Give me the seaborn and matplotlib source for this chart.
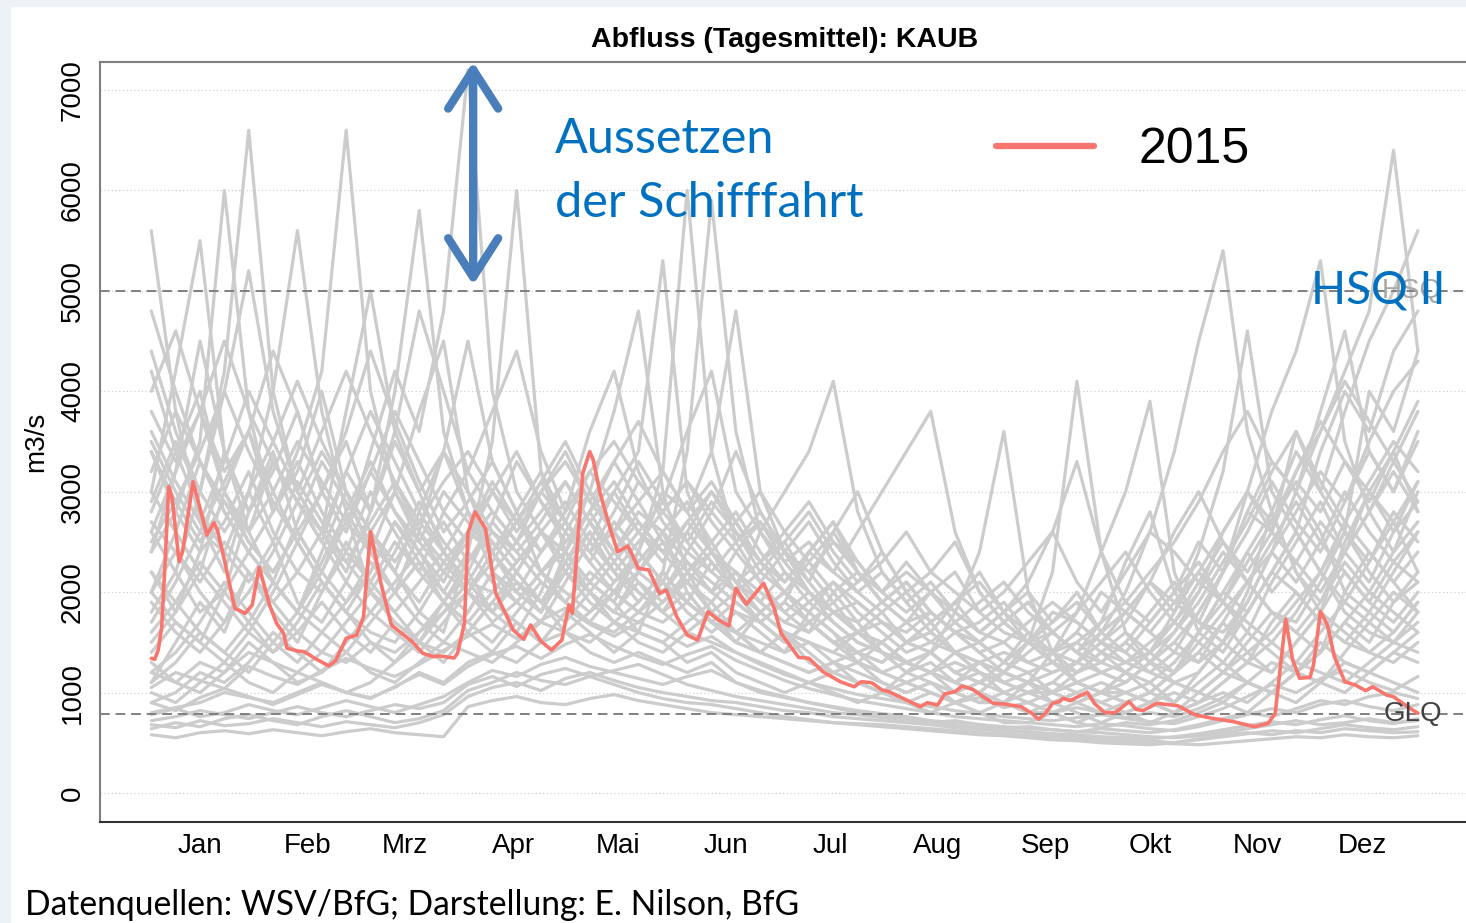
import numpy as np
import pandas as pd
import matplotlib
matplotlib.use("Agg")
import matplotlib.pyplot as plt
from matplotlib.patches import Rectangle
import seaborn as sns

# Abfluss (Tagesmittel) Kaub

months = ["Jan", "Feb", "Mrz", "Apr", "Mai", "Jun", "Jul", "Aug", "Sep", "Okt", "Nov", "Dez"]
month_mid = [15, 46, 74, 105, 135, 166, 196, 227, 258, 288, 319, 349]

hsq = 5000   # HSQ II
glq = 783    # GlQ

# 2015 (day of year, m3/s)
red_day = [1, 2, 3, 4, 5, 6, 7, 9, 10, 13, 17, 19, 20, 22, 25, 28, 30, 32, 35, 37,
           39, 40, 43, 45, 48, 52, 54, 57, 60, 62, 63, 64, 67, 70, 72, 76, 79, 82, 84, 88,
           89, 91, 92, 94, 97, 98, 100, 103, 105, 108, 110, 113, 116, 119, 121, 122, 125, 127, 128, 130,
           133, 135, 138, 141, 144, 147, 149, 152, 155, 158, 161, 164, 167, 169, 172, 177, 180, 182, 187, 190,
           194, 199, 203, 205, 208, 211, 213, 217, 222, 224, 227, 229, 232, 234, 237, 240, 243, 246, 251, 254,
           256, 258, 260, 262, 263, 265, 270, 272, 275, 278, 282, 284, 286, 290, 296, 301, 306, 312, 318, 322,
           324, 327, 329, 331, 334, 335, 337, 339, 341, 344, 347, 350, 352, 356, 358, 362, 365]
red_q = [1341, 1331, 1424, 1656, 2320, 3050, 2934, 2303, 2403, 3100, 2569, 2692, 2619, 2320, 1839, 1789, 1872, 2247, 1872, 1690,
         1590, 1441, 1414, 1407, 1341, 1265, 1318, 1540, 1573, 1756, 2188, 2602, 2088, 1673, 1616, 1507, 1391, 1357, 1364, 1344,
         1391, 1690, 2586, 2801, 2636, 2420, 1988, 1772, 1623, 1530, 1673, 1510, 1424, 1523, 1872, 1789, 3183, 3399, 3316, 2984,
         2619, 2403, 2459, 2237, 2220, 1988, 2021, 1756, 1573, 1523, 1806, 1723, 1663, 2038, 1879, 2088, 1839, 1590, 1351, 1341,
         1208, 1108, 1058, 1108, 1098, 1026, 1009, 943, 859, 899, 876, 986, 1009, 1065, 1033, 960, 893, 886, 859, 794,
         734, 794, 893, 909, 943, 919, 1003, 893, 800, 800, 909, 833, 820, 893, 869, 777, 743, 710, 660, 694,
         794, 1730, 1324, 1142, 1152, 1275, 1806, 1673, 1357, 1108, 1075, 1019, 1058, 976, 959, 859, 794]

# other years, weekly read-offs (unit: 100 m3/s)
grid_days = list(range(1, 359, 7)) + [365]

s1 = [56, 38, 27, 22, 30, 25, 19, 17, 21, 26, 22, 18, 16, 24, 35, 60, 32, 24, 20, 18,
      22, 26, 20, 17, 15, 14, 16, 13, 12, 11, 10, 12, 14, 18, 24, 36, 20, 14, 11, 10,
      9, 10, 12, 16, 20, 24, 28, 22, 18, 25, 30, 34, 28]
s2 = [30, 42, 55, 34, 26, 21, 18, 23, 28, 20, 17, 15, 19, 22, 18, 16, 20, 26, 30, 38,
      48, 30, 22, 18, 16, 15, 14, 18, 16, 13, 12, 11, 10, 9, 10, 12, 15, 22, 41, 24,
      16, 13, 11, 12, 15, 19, 24, 30, 26, 20, 18, 22, 26]
s3 = [24, 28, 35, 60, 38, 28, 32, 40, 30, 24, 20, 26, 34, 28, 22, 19, 17, 21, 25, 30,
      34, 53, 30, 24, 20, 18, 16, 15, 14, 13, 12, 13, 12, 11, 10, 9, 11, 14, 18, 24,
      30, 39, 22, 16, 14, 18, 22, 20, 17, 15, 14, 16, 19]
s4 = [18, 22, 30, 42, 66, 40, 30, 26, 22, 28, 35, 30, 24, 20, 18, 22, 26, 24, 21, 19,
      24, 32, 60, 34, 25, 21, 18, 16, 20, 17, 14, 12, 11, 10, 9, 9, 10, 11, 13, 16,
      20, 26, 34, 45, 54, 36, 28, 22, 19, 24, 30, 27, 22]
s5 = [35, 30, 26, 24, 30, 40, 56, 38, 28, 24, 30, 38, 45, 30, 24, 20, 18, 22, 19, 17,
      16, 22, 34, 59, 36, 26, 22, 19, 17, 15, 14, 13, 12, 14, 12, 11, 10, 10, 9, 10,
      12, 14, 18, 24, 32, 46, 30, 26, 34, 40, 36, 44, 48]
s6 = [20, 26, 22, 30, 36, 28, 34, 42, 66, 40, 30, 25, 22, 20, 24, 28, 22, 19, 17, 20,
      24, 30, 28, 34, 48, 30, 24, 20, 17, 15, 14, 13, 14, 12, 11, 13, 16, 13, 11, 10,
      11, 13, 16, 20, 26, 30, 38, 44, 53, 35, 28, 24, 30]
s7 = [28, 34, 40, 30, 25, 22, 26, 30, 35, 28, 40, 58, 36, 28, 24, 20, 18, 24, 30, 26,
      22, 20, 24, 22, 20, 26, 30, 34, 41, 28, 22, 19, 16, 14, 13, 12, 11, 12, 13, 15,
      14, 12, 14, 18, 22, 28, 26, 32, 36, 42, 48, 64, 44]
s8 = [22, 18, 24, 34, 28, 32, 38, 30, 26, 34, 42, 36, 48, 72, 40, 30, 26, 22, 20, 18,
      17, 19, 22, 20, 18, 17, 19, 24, 22, 26, 30, 34, 38, 26, 20, 17, 15, 14, 16, 20,
      18, 16, 14, 13, 15, 20, 28, 34, 30, 38, 45, 50, 56]
m1 = [15, 18, 22, 19, 16, 20, 25, 21, 18, 16, 15, 18, 22, 26, 24, 21, 19, 23, 26, 22,
      20, 18, 22, 25, 21, 18, 16, 15, 14, 16, 15, 13, 12, 11, 13, 12, 11, 10, 12, 14,
      13, 12, 11, 10, 12, 14, 16, 19, 22, 18, 16, 15, 17]
m2 = [26, 22, 18, 20, 28, 34, 26, 22, 19, 22, 27, 24, 20, 18, 22, 25, 28, 31, 27, 24,
      28, 26, 23, 20, 24, 27, 23, 20, 18, 17, 19, 21, 18, 16, 15, 17, 19, 16, 14, 13,
      15, 18, 21, 17, 15, 18, 22, 26, 22, 19, 23, 28, 25]
m3 = [11, 13, 16, 14, 12, 15, 18, 16, 14, 17, 20, 23, 19, 17, 15, 18, 21, 19, 17, 16,
      18, 21, 19, 17, 16, 18, 20, 17, 15, 14, 13, 15, 17, 14, 12, 11, 10, 9, 10, 11,
      10, 9, 8, 9, 11, 13, 12, 15, 18, 16, 14, 13, 15]
m4 = [34, 28, 24, 27, 32, 26, 22, 20, 24, 30, 26, 22, 28, 32, 28, 25, 30, 34, 29, 26,
      31, 28, 25, 29, 26, 23, 25, 28, 24, 21, 23, 26, 22, 20, 18, 20, 23, 26, 21, 18,
      22, 26, 24, 21, 19, 23, 27, 31, 28, 33, 30, 26, 29]
m5 = [19, 16, 14, 17, 22, 19, 16, 14, 17, 20, 18, 15, 14, 16, 19, 17, 15, 18, 21, 19,
      16, 15, 17, 19, 16, 14, 13, 12, 13, 12, 11, 10, 11, 10, 9, 10, 9, 8, 9, 8,
      9, 10, 12, 15, 13, 11, 10, 12, 14, 20, 24, 21, 18]
m6 = [42, 34, 28, 24, 21, 25, 31, 27, 23, 20, 24, 29, 25, 22, 27, 33, 29, 26, 23, 27,
      24, 21, 26, 30, 27, 23, 21, 24, 27, 22, 19, 17, 20, 22, 18, 16, 15, 18, 17, 15,
      17, 21, 19, 17, 16, 19, 24, 28, 32, 29, 35, 40, 43]
m7 = [13, 11, 10, 12, 15, 13, 11, 12, 14, 12, 11, 13, 15, 14, 13, 15, 17, 16, 15, 17,
      15, 14, 16, 15, 14, 13, 12, 11, 12, 11, 10, 9, 10, 9, 8, 9, 8, 8, 7, 8,
      8, 7, 8, 9, 10, 9, 11, 13, 12, 11, 13, 15, 14]
m8 = [24, 32, 38, 30, 26, 33, 29, 25, 32, 38, 33, 28, 24, 21, 20, 23, 26, 24, 28, 33,
      29, 25, 22, 24, 21, 19, 22, 20, 18, 19, 17, 15, 16, 19, 21, 18, 16, 14, 13, 15,
      18, 21, 26, 30, 25, 21, 18, 17, 21, 26, 22, 19, 21]
n1 = [40, 46, 38, 32, 36, 44, 38, 30, 26, 32, 38, 33, 28, 25, 30, 27, 24, 28, 32, 29,
      26, 23, 27, 30, 26, 22, 20, 23, 26, 22, 19, 21, 18, 16, 17, 19, 16, 14, 15, 17,
      19, 22, 25, 29, 34, 38, 33, 30, 36, 41, 37, 33, 38]
n2 = [12, 14, 17, 21, 18, 15, 13, 16, 19, 23, 20, 17, 15, 18, 22, 20, 24, 27, 23, 20,
      22, 25, 21, 18, 20, 17, 15, 17, 19, 16, 14, 12, 13, 11, 10, 12, 11, 9, 10, 9,
      8, 9, 11, 10, 9, 11, 13, 12, 11, 14, 17, 20, 18]
n3 = [30, 26, 33, 28, 24, 21, 27, 33, 29, 25, 22, 28, 34, 30, 26, 23, 26, 29, 25, 22,
      25, 28, 31, 27, 24, 21, 24, 22, 19, 21, 24, 20, 17, 19, 22, 18, 15, 17, 20, 16,
      14, 17, 20, 23, 19, 16, 21, 25, 29, 24, 21, 26, 31]
n4 = [17, 21, 26, 31, 36, 30, 25, 21, 18, 22, 27, 23, 20, 24, 21, 19, 22, 25, 28, 24,
      21, 19, 21, 24, 22, 19, 17, 19, 21, 18, 16, 14, 15, 17, 15, 13, 12, 13, 15, 13,
      12, 11, 13, 16, 19, 17, 15, 18, 22, 27, 24, 21, 24]
n5 = [22, 19, 16, 14, 17, 21, 18, 24, 30, 26, 22, 19, 23, 26, 30, 34, 29, 25, 28, 31,
      27, 24, 26, 23, 20, 22, 25, 21, 18, 16, 18, 15, 14, 16, 14, 12, 14, 16, 14, 12,
      11, 13, 15, 13, 17, 21, 18, 16, 19, 23, 20, 24, 27]
n6 = [48, 40, 33, 28, 24, 28, 33, 28, 24, 21, 25, 22, 19, 23, 27, 24, 21, 19, 22, 20,
      18, 20, 23, 21, 19, 17, 15, 17, 15, 14, 13, 15, 14, 12, 11, 12, 11, 10, 11, 12,
      11, 13, 15, 18, 22, 26, 31, 27, 24, 29, 34, 30, 35]
n7 = [9, 10, 12, 11, 13, 16, 14, 12, 15, 18, 16, 14, 17, 20, 18, 21, 19, 17, 20, 23,
      20, 18, 16, 18, 15, 14, 16, 14, 12, 13, 11, 10, 11, 9, 10, 9, 8, 9, 8, 7,
      8, 9, 8, 10, 12, 11, 10, 12, 15, 13, 12, 14, 16]
n8 = [36, 31, 27, 33, 40, 35, 30, 36, 42, 36, 31, 27, 24, 28, 25, 22, 26, 23, 27, 30,
      26, 29, 25, 22, 25, 28, 24, 27, 23, 20, 22, 19, 21, 18, 16, 18, 20, 17, 19, 16,
      18, 21, 18, 22, 26, 30, 27, 32, 37, 33, 29, 34, 39]
n9 = [14, 17, 15, 20, 24, 21, 18, 22, 27, 24, 20, 23, 19, 16, 19, 22, 19, 16, 18, 21,
      24, 21, 18, 16, 18, 16, 14, 15, 13, 14, 12, 11, 12, 10, 11, 10, 9, 10, 11, 10,
      9, 10, 12, 14, 12, 15, 18, 16, 14, 17, 20, 18, 16]
n10 = [25, 29, 34, 40, 34, 29, 25, 30, 36, 44, 37, 31, 26, 29, 33, 28, 24, 27, 24, 21,
       23, 26, 23, 20, 22, 20, 18, 20, 18, 16, 17, 15, 16, 14, 15, 13, 15, 13, 12, 14,
       16, 14, 17, 21, 25, 22, 26, 23, 20, 24, 28, 32, 28]
n11 = [20, 24, 20, 17, 20, 24, 29, 25, 21, 18, 21, 24, 21, 26, 31, 27, 31, 35, 30, 26,
       29, 32, 28, 24, 27, 30, 26, 23, 20, 22, 19, 17, 18, 16, 14, 15, 13, 14, 12, 13,
       15, 13, 12, 14, 17, 14, 12, 15, 18, 22, 19, 17, 20]
n12 = [10, 9, 11, 13, 11, 10, 12, 11, 10, 11, 13, 15, 13, 16, 14, 17, 15, 18, 16, 14,
       16, 15, 13, 14, 12, 11, 10, 11, 10, 9, 10, 9, 8, 9, 8, 7, 7, 8, 7, 6.5,
       7, 6.8, 7.2, 8, 9, 8, 10, 9, 11, 10, 12, 11, 10]
n13 = [32, 38, 33, 29, 26, 30, 35, 31, 27, 32, 28, 25, 30, 27, 24, 27, 31, 27, 24, 26,
       23, 26, 29, 25, 28, 24, 21, 24, 27, 23, 20, 23, 20, 17, 19, 21, 18, 16, 18, 21,
       24, 20, 17, 20, 24, 21, 25, 29, 25, 30, 26, 23, 26]
n14 = [16, 19, 23, 20, 17, 14, 16, 19, 16, 14, 17, 15, 18, 21, 25, 22, 19, 22, 26, 22,
       19, 22, 19, 23, 20, 17, 19, 17, 15, 16, 14, 13, 14, 12, 13, 11, 12, 10, 11, 10,
       10, 11, 9, 11, 13, 16, 14, 12, 14, 17, 15, 19, 22]
n15 = [27, 24, 21, 25, 22, 19, 22, 26, 23, 27, 31, 26, 22, 25, 28, 25, 22, 24, 21, 24,
       27, 24, 21, 19, 22, 19, 17, 16, 18, 16, 15, 17, 15, 14, 13, 14, 13, 12, 13, 12,
       13, 15, 17, 15, 18, 21, 24, 21, 25, 22, 19, 23, 21]
n16 = [38, 33, 38, 45, 38, 33, 29, 34, 30, 26, 23, 27, 31, 34, 30, 26, 30, 27, 32, 35,
       31, 28, 31, 28, 25, 27, 24, 22, 25, 23, 20, 18, 20, 18, 16, 15, 17, 19, 17, 15,
       13, 14, 16, 19, 23, 27, 32, 36, 31, 27, 31, 35, 32]
n17 = [8, 8.5, 9, 10, 9.5, 9, 10, 11, 10, 9.5, 10.5, 12, 11, 13, 14, 13, 15, 16, 14, 13,
       14, 13, 12, 13, 11, 10, 9.5, 9, 8.5, 8, 7.8, 7.4, 7.0, 7.2, 6.8, 6.5, 6.6, 6.3, 6.1, 6.4,
       6.2, 6.0, 6.3, 6.8, 7.4, 8, 7.6, 8.4, 9.2, 8.8, 9.6, 10, 9.4]
n18 = [20, 17, 15, 13, 16, 14, 17, 21, 18, 15, 13, 16, 19, 17, 20, 23, 26, 23, 20, 18,
       21, 18, 20, 17, 15, 18, 20, 18, 16, 14, 15, 13, 12, 13, 12, 11, 10, 11, 10, 9,
       10, 9, 10, 9, 11, 13, 15, 13, 16, 19, 17, 15, 18]
n19 = [29, 35, 30, 26, 30, 35, 41, 35, 30, 26, 30, 26, 23, 20, 23, 27, 30, 33, 29, 33,
       37, 32, 28, 31, 27, 23, 26, 29, 25, 22, 20, 22, 20, 17, 15, 17, 15, 16, 14, 16,
       18, 16, 19, 22, 19, 24, 20, 23, 27, 24, 28, 33, 29]
n20 = [12, 11, 13, 12, 14, 13, 12, 14, 13, 15, 14, 16, 18, 20, 17, 19, 22, 20, 18, 20,
       18, 17, 19, 17, 16, 14, 13, 12, 13, 11, 10, 11, 10, 9, 9.5, 8.5, 9, 8, 8.5, 8,
       7.5, 8, 7.6, 8.4, 9.5, 11, 10, 12, 11, 13, 12, 14, 13]
n21 = [26, 32, 45, 34, 28, 33, 29, 26, 38, 50, 36, 30, 34, 45, 33, 28, 32, 27, 24, 28,
       33, 29, 36, 42, 30, 26, 23, 25, 22, 20, 18, 20, 17, 19, 16, 18, 21, 26, 33, 24,
       19, 17, 20, 25, 22, 28, 33, 30, 38, 46, 34, 30, 36]
n22 = [44, 36, 30, 40, 52, 38, 30, 26, 32, 28, 36, 48, 40, 32, 38, 44, 34, 28, 36, 42,
       32, 27, 24, 28, 34, 28, 24, 21, 26, 30, 24, 20, 22, 25, 20, 17, 19, 16, 14, 17,
       23, 28, 20, 17, 22, 30, 26, 36, 30, 26, 40, 36, 44]
n23 = [11, 15, 19, 16, 22, 18, 15, 20, 25, 21, 18, 21, 24, 21, 18, 21, 18, 23, 20, 17,
       19, 22, 19, 17, 19, 17, 15, 17, 15, 13, 15, 13, 12, 11, 12, 10, 11, 10, 9, 10,
       12, 10, 9, 12, 15, 13, 17, 20, 17, 15, 18, 16, 19]
n24 = [34, 29, 25, 29, 25, 22, 26, 22, 28, 33, 28, 24, 27, 23, 26, 24, 27, 31, 27, 23,
       26, 24, 27, 24, 21, 23, 20, 18, 21, 19, 17, 16, 18, 16, 15, 13, 15, 14, 16, 14,
       12, 14, 12, 16, 20, 18, 22, 26, 22, 26, 23, 27, 31]
l1 = [5.8, 5.5, 6.0, 6.2, 5.9, 6.3, 6.0, 5.7, 6.1, 6.4, 6.0, 5.8, 5.6, 8.6, 9.2, 9.6, 9.0, 8.8, 9.4, 9.8,
      9.2, 8.8, 8.4, 8.0, 7.8, 7.6, 7.4, 7.2, 7.0, 6.9, 6.8, 6.6, 6.4, 6.2, 6.0, 5.9, 5.7, 5.6, 5.4, 5.3,
      5.1, 5.0, 4.9, 4.8, 5.0, 5.2, 5.4, 5.6, 5.5, 5.8, 5.6, 5.5, 5.7]
l2 = [6.8, 6.5, 7.2, 6.7, 6.9, 7.4, 7.0, 6.6, 7.1, 6.8, 6.5, 7.0, 7.8, 9.6, 10.5, 11.0, 10.2, 11.4, 12.0, 11.2,
      10.5, 10.0, 9.6, 9.2, 9.0, 8.6, 8.2, 8.0, 7.6, 7.4, 7.2, 7.0, 6.8, 6.5, 6.3, 6.2, 6.0, 5.8, 5.6, 5.5,
      5.3, 5.2, 5.0, 5.3, 5.6, 5.9, 6.2, 6.0, 6.4, 6.8, 6.5, 6.3, 6.6]
l3 = [7.8, 8.4, 7.6, 8.0, 8.8, 8.2, 7.8, 8.5, 9.2, 8.6, 8.0, 8.8, 9.6, 11.0, 12.2, 11.6, 12.8, 13.5, 12.6, 12.0,
      11.4, 10.8, 11.6, 12.2, 11.0, 10.2, 9.6, 9.0, 8.6, 8.2, 7.9, 7.6, 7.2, 7.0, 6.8, 6.6, 6.4, 6.3, 6.1, 6.0,
      5.8, 5.6, 5.5, 5.7, 6.0, 6.4, 6.8, 7.2, 6.8, 7.0, 7.4, 7.0, 7.2]
l4 = [9.0, 8.2, 9.5, 10.4, 9.6, 8.8, 9.8, 10.8, 10.0, 9.4, 10.6, 11.8, 10.8, 12.6, 13.8, 14.6, 13.4, 14.8, 15.8, 14.6,
      13.6, 12.8, 13.8, 14.6, 13.2, 12.2, 11.2, 10.4, 9.8, 9.2, 8.8, 8.4, 8.0, 7.6, 7.4, 7.2, 7.0, 6.8, 6.6, 6.9,
      6.7, 6.4, 6.2, 6.6, 7.2, 7.8, 8.4, 8.0, 8.8, 9.2, 8.6, 8.2, 8.8]
l5 = [10.5, 12.0, 11.2, 10.4, 12.6, 11.6, 10.8, 12.2, 13.4, 12.4, 11.6, 12.8, 14.2, 15.6, 16.8, 15.4, 17.2, 18.4, 16.8, 15.6,
      17.0, 16.0, 14.6, 15.6, 14.0, 12.8, 11.8, 11.0, 10.4, 9.8, 9.4, 9.0, 8.6, 8.2, 7.9, 7.6, 7.4, 7.2, 7.5, 7.8,
      7.4, 7.1, 6.9, 7.6, 8.4, 9.6, 10.8, 10.0, 11.4, 12.2, 11.0, 10.2, 11.6]
l6 = [6.4, 7.0, 6.6, 7.4, 7.8, 7.2, 6.8, 7.6, 8.2, 7.6, 7.0, 7.4, 8.2, 10.2, 11.0, 12.0, 11.2, 10.8, 11.6, 10.8,
      10.0, 9.4, 9.0, 8.8, 8.4, 8.0, 7.6, 7.3, 7.0, 6.8, 6.6, 6.4, 6.2, 6.0, 5.8, 5.7, 5.5, 5.3, 5.2, 5.0,
      4.9, 4.8, 5.0, 5.4, 5.8, 6.0, 5.8, 6.2, 6.0, 6.4, 6.2, 6.0, 6.1]
l7 = [7.2, 7.6, 8.2, 7.8, 7.4, 8.0, 8.6, 8.0, 7.6, 8.2, 8.8, 8.4, 9.0, 10.8, 11.6, 10.6, 11.8, 12.4, 11.6, 12.2,
      12.8, 11.8, 10.8, 10.2, 9.6, 9.2, 8.8, 8.4, 8.0, 7.8, 7.5, 7.2, 7.0, 6.7, 6.5, 6.3, 6.1, 5.9, 5.8, 5.6,
      5.5, 5.4, 5.6, 5.9, 6.3, 6.7, 7.1, 6.8, 7.3, 7.7, 7.2, 6.9, 7.4]

others = {"s1": s1, "s2": s2, "s3": s3, "s4": s4, "s5": s5, "s6": s6, "s7": s7, "s8": s8,
          "m1": m1, "m2": m2, "m3": m3, "m4": m4, "m5": m5, "m6": m6, "m7": m7, "m8": m8,
          "n1": n1, "n2": n2, "n3": n3, "n4": n4, "n5": n5, "n6": n6, "n7": n7, "n8": n8,
          "n9": n9, "n10": n10, "n11": n11, "n12": n12, "n13": n13, "n14": n14, "n15": n15,
          "n16": n16, "n17": n17, "n18": n18, "n19": n19, "n20": n20, "n21": n21, "n22": n22,
          "n23": n23, "n24": n24,
          "l1": l1, "l2": l2, "l3": l3, "l4": l4, "l5": l5, "l6": l6, "l7": l7}

rows = []
for name, vals in others.items():
    assert len(vals) == len(grid_days), name
    for d, v in zip(grid_days, vals):
        rows.append((name, d, v * 100))
grey_df = pd.DataFrame(rows, columns=["year", "day", "q"])
red_df = pd.DataFrame({"day": red_day, "q": red_q})

sns.set_style("white")
plt.rcParams["font.family"] = ["Liberation Sans", "DejaVu Sans"]
plt.rcParams["text.color"] = "black"

GREY = "#CCCCCC"
RED = "#F8766D"
BLUE = "#0070C0"

fig = plt.figure(figsize=(14.66, 9.23), dpi=100)
fig.patch.set_facecolor("#EDF2F7")
fig.patches.append(Rectangle((11 / 1466, 0), 1, 1 - 7 / 923, transform=fig.transFigure,
                             facecolor="white", edgecolor="none", zorder=-10))
ax = fig.add_axes([100 / 1466, 1 - 822 / 923, 1368.7 / 1466, 760 / 923])
ax.set_facecolor("white")

# fewer years than the original, so slightly wider strokes to get the same grey mass
sns.lineplot(data=grey_df, x="day", y="q", units="year", estimator=None,
             color=GREY, lw=2.3, ax=ax, legend=False, zorder=2)
ax.axhline(hsq, color="#808080", lw=1.4, ls=(0, (5, 3)), zorder=3)
ax.axhline(glq, color="#808080", lw=1.4, ls=(0, (5, 3)), zorder=3)
sns.lineplot(data=red_df, x="day", y="q", color=RED, lw=2.6, ax=ax, label="2015", zorder=4)

ax.set_xlim(-13.74, 379.6)
ax.set_ylim(-289, 7279)
ax.set_xticks(month_mid)
ax.set_xticklabels(months)
ax.set_yticks(range(0, 7001, 1000))
ax.set_yticklabels([str(v) for v in range(0, 7001, 1000)], rotation=90, va="center")
ax.yaxis.grid(True, ls=(0, (1, 2)), color="#D0D0D0", lw=0.9)
ax.set_axisbelow(True)
ax.tick_params(axis="x", length=6.5, width=1, pad=1.2, labelsize=20, colors="#222222")
ax.tick_params(axis="y", length=6, width=1, pad=4, labelsize=20, colors="#555555")
ax.tick_params(labelcolor="black")
for side in ["left", "top", "right"]:
    ax.spines[side].set_color("#7F7F7F")
    ax.spines[side].set_linewidth(1.5)
ax.spines["bottom"].set_color("#333333")
ax.spines["bottom"].set_linewidth(1.5)

ax.set_xlabel("")
ax.set_ylabel("m3/s", fontsize=20, color="black")
ax.yaxis.set_label_coords(-0.0373, 0.5)
ax.set_title("Abfluss (Tagesmittel): KAUB", fontsize=20.5, fontweight="bold", pad=11, color="black")

# reference labels (R's own labels sit under the added blue one, as in the original)
ax.text(371.9, hsq, "HSQ", fontsize=20, color="#A8A8A8", ha="right", va="center", zorder=5)
ax.text(371.9, glq, "GLQ", fontsize=20, color="#404040", ha="right", va="center", zorder=5)
ax.text(334.2, 4879, "HSQ II", fontsize=33, color=BLUE, family="Lato", va="baseline", zorder=6)

# shipping stop annotation
ax.annotate("", xy=(93.5, 7279), xytext=(93.5, 5060),
            arrowprops=dict(arrowstyle="<->,head_length=2.8,head_width=1.8", lw=6,
                            color="#4A7EBB", shrinkA=0, shrinkB=0, mutation_scale=10,
                            capstyle="round", joinstyle="round"),
            annotation_clip=False, zorder=6)
ax.text(117, 6373, "Aussetzen", fontsize=35, color=BLUE, family="Lato", va="baseline", zorder=6)
ax.text(117, 5735, "der Schifffahrt", fontsize=35, color=BLUE, family="Lato", va="baseline", zorder=6)

handles = [l for l in ax.lines if l.get_label() == "2015"]
leg = ax.legend(handles=handles, labels=["2015"], loc="center left", bbox_to_anchor=(0.6547, 0.884),
                frameon=False, fontsize=36, handlelength=1.96, handletextpad=0.88,
                borderpad=0, borderaxespad=0)
leg.get_lines()[0].set_linewidth(4.5)
for t in leg.get_texts():
    t.set_color("black")

fig.text(25 / 1466, 1 - 905 / 923, "Datenquellen: WSV/BfG; Darstellung: E. Nilson, BfG",
         fontsize=24.2, family="Lato", va="center", ha="left", color="black")

fig.savefig("out.png", dpi=100, facecolor=fig.get_facecolor())
